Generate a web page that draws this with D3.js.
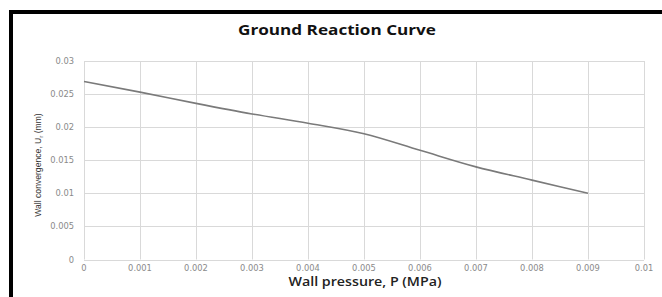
<!DOCTYPE html>
<html><head><meta charset="utf-8">
<script src="https://cdn.jsdelivr.net/npm/d3@7"></script>
<style>body{margin:0;background:#fff}svg{display:block}</style>
</head><body><svg id="c" width="662" height="297"></svg>
<script>
const pressure = [0, 0.001, 0.002, 0.003, 0.004, 0.005, 0.006, 0.007, 0.008, 0.009];
const convergence = [0.0269, 0.0253, 0.0236, 0.0220, 0.0206, 0.0190, 0.0165, 0.0140, 0.0120, 0.0100];
const xTicks = [0, 0.001, 0.002, 0.003, 0.004, 0.005, 0.006, 0.007, 0.008, 0.009, 0.01];
const yTicks = [0, 0.005, 0.01, 0.015, 0.02, 0.025, 0.03];
const title = "Ground Reaction Curve";
const xTitle = "Wall pressure, P (MPa)";

const svg = d3.select("#c");
svg.append("rect").attr("x",11).attr("y",12).attr("width",700).attr("height",400)
  .attr("fill","none").attr("stroke","#000").attr("stroke-width",4);

const x = d3.scaleLinear().domain([0,0.01]).range([84,644]);
const y = d3.scaleLinear().domain([0,0.03]).range([259.5,61]);

const g = svg.append("g");
g.selectAll("line.v").data(xTicks).join("line")
  .attr("x1",d=>Math.round(x(d))+0.5).attr("x2",d=>Math.round(x(d))+0.5)
  .attr("y1",y(0)).attr("y2",y(0.03)).attr("stroke","#d9d9d9").attr("stroke-width",1);
g.selectAll("line.h").data(yTicks).join("line")
  .attr("y1",d=>Math.round(y(d))+0.5).attr("y2",d=>Math.round(y(d))+0.5)
  .attr("x1",x(0)).attr("x2",x(0.01)).attr("stroke","#d9d9d9").attr("stroke-width",1);

const font = "'DejaVu Sans', sans-serif";
g.selectAll("text.xt").data(xTicks).join("text")
  .attr("x",d=>x(d)).attr("y",271).attr("text-anchor","middle")
  .attr("font-family",font).attr("font-size",8.3).attr("fill","#8a8a8a")
  .text(d=>d3.format("~g")(d));
g.selectAll("text.yt").data(yTicks).join("text")
  .attr("x",74).attr("y",d=>y(d)+3).attr("text-anchor","end")
  .attr("font-family",font).attr("font-size",8.3).attr("fill","#8a8a8a")
  .text(d=>d3.format("~g")(d));

const line = d3.line().x((d,i)=>x(pressure[i])).y(d=>y(d)).curve(d3.curveMonotoneX);
svg.append("path").attr("d",line(convergence)).attr("fill","none")
  .attr("stroke","#7a7a7a").attr("stroke-width",1.6);

svg.append("text").attr("x",337).attr("y",34.5).attr("text-anchor","middle")
  .attr("font-family","'Open Sans', sans-serif").attr("font-weight","bold").attr("font-size",14.5)
  .attr("textLength",198).attr("lengthAdjust","spacingAndGlyphs")
  .attr("fill","#111").text(title);
svg.append("text").attr("x",365).attr("y",286).attr("text-anchor","middle")
  .attr("font-family","'Open Sans', sans-serif").attr("font-weight","600").attr("font-size",12)
  .attr("textLength",153).attr("lengthAdjust","spacingAndGlyphs")
  .attr("fill","#222").text(xTitle);
const yt = svg.append("text").attr("transform","translate(41,165) rotate(-90)").attr("text-anchor","middle")
  .attr("font-family","'Liberation Sans Narrow', 'Liberation Sans', sans-serif").attr("font-size",8.6).attr("fill","#333");
yt.append("tspan").text("Wall convergence, U");
yt.append("tspan").attr("font-size",6).attr("dy",2).text("r");
yt.append("tspan").attr("dy",-2).text(" (mm)");
</script></body></html>
